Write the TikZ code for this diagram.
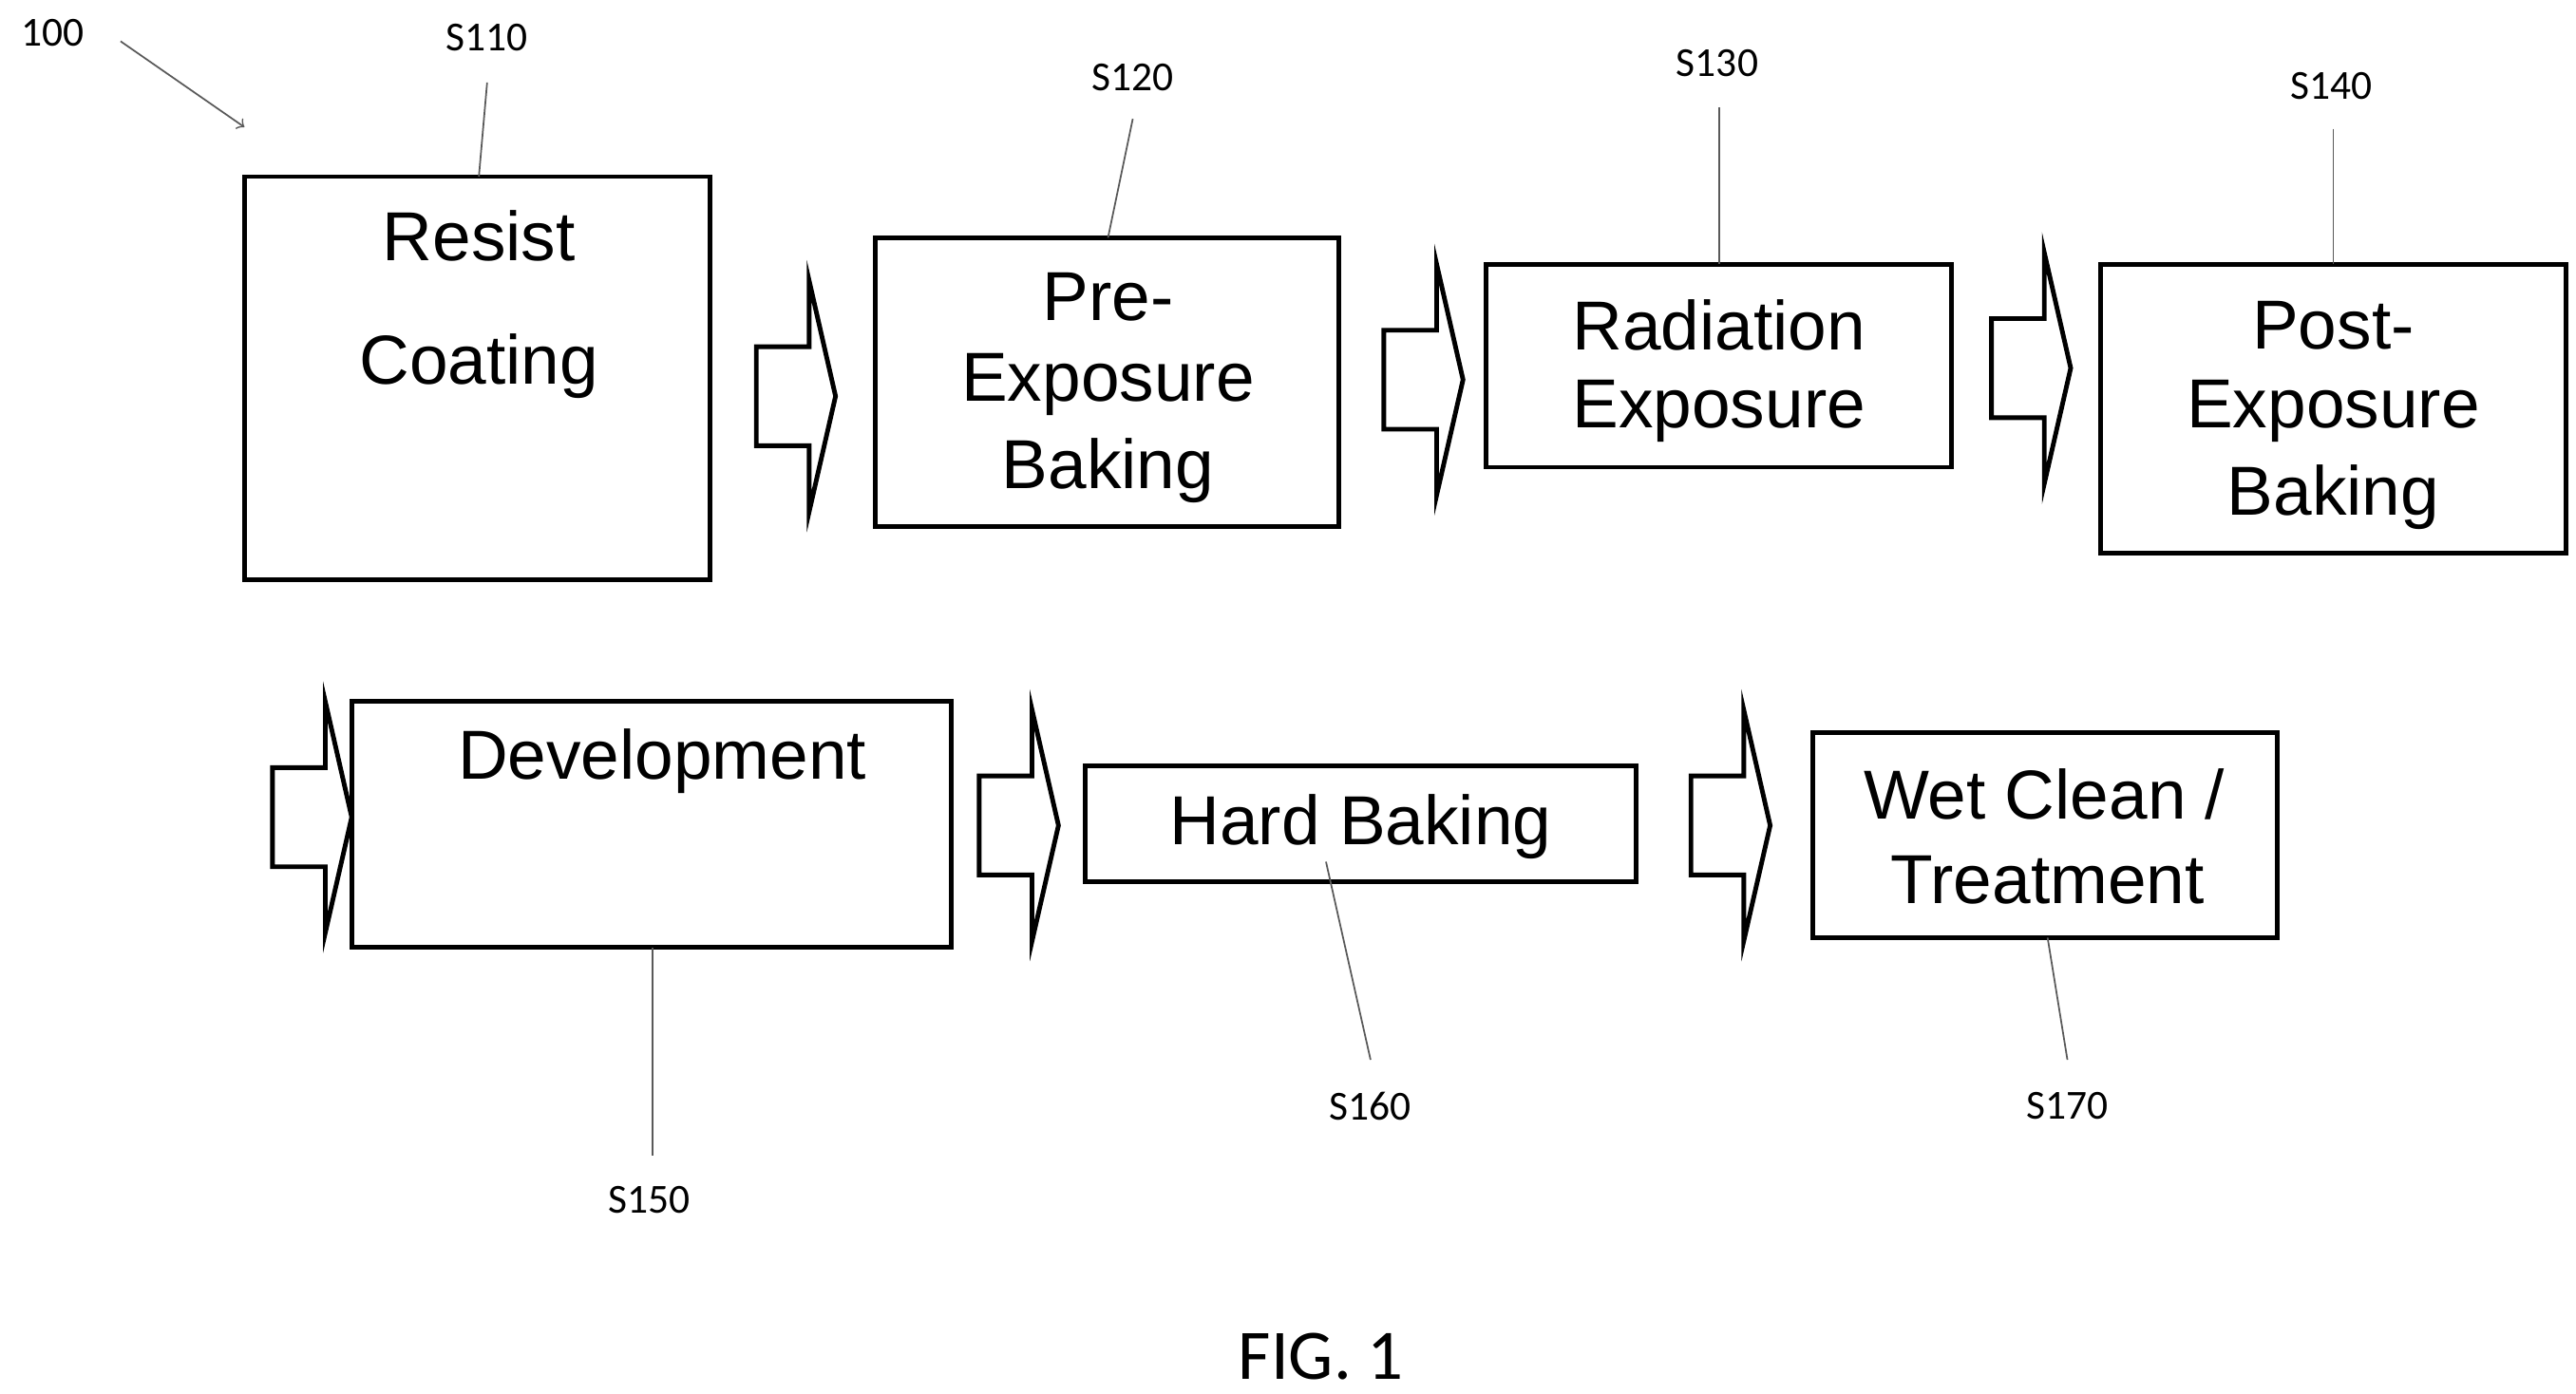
\documentclass[tikz,border=0pt]{standalone}
\usepackage{fontspec}
\setmainfont{Liberation Sans}
\newfontfamily\calib{Carlito}
\begin{document}
\begin{tikzpicture}[x=0.5pt,y=-0.5pt,
  box/.style={draw,line width=1.4pt},
  txt/.style={font=\fontsize{21}{25}\selectfont,inner sep=0},
  lab/.style={font=\calib\fontsize{12.5}{15}\selectfont,inner sep=0},
  lead/.style={draw=gray!70!black,line width=0.5pt},
  blk/.style={draw,line width=1.4pt,line join=miter}]
\useasboundingbox (0,0) rectangle (1560,844);
% boxes
\draw[box] (148,107) rectangle (430,351); \coordinate (b1) at (290,107);
\node[txt] (t1a) at (290,143) {Resist};
\node[txt] (t1b) at (290,222) {Coating};
\draw[box] (530,144) rectangle (811,319); \coordinate (b2) at (671,144);
\node[txt] at (671,180) {Pre-};
\node[txt] at (671,233) {Exposure};
\node[txt] at (671,285) {Baking};
\draw[box] (900,160) rectangle (1182,283); \coordinate (b3) at (1041,160);
\node[txt] at (1041,197) {Radiation};
\node[txt] at (1041,249) {Exposure};
\draw[box] (1272,160) rectangle (1554,335); \coordinate (b4) at (1413,160);
\node[txt] at (1413,197) {Post-};
\node[txt] at (1413,249) {Exposure};
\node[txt] at (1413,301) {Baking};
\draw[box] (213,425) rectangle (576,574); \coordinate (b5) at (395,574);
\node[txt] at (401,461) {Development};
\draw[box] (657,464) rectangle (991,534); \coordinate (b6) at (803,522);
\node[txt] at (824,501) {Hard Baking};
\draw[box] (1098,444) rectangle (1379,568); \coordinate (b7) at (1240,568);
\node[txt] at (1238,481) {Wet Clean /};
\node[txt] at (1240,533) {Treatment};
% block arrows
\foreach \x/\y in {458/240, 838/230, 1206/223, 165/495, 593/500, 1024/500}{
  \draw[blk] (\x,\y-30) -- (\x+32,\y-30) -- (\x+32,\y-70) -- (\x+48,\y) -- (\x+32,\y+70) -- (\x+32,\y+30) -- (\x,\y+30) -- cycle;
}
% labels and leaders
\node[lab] (l1) at (295,23) {S110};
\node[lab] (l2) at (686,47) {S120};
\node[lab] (l3) at (1040,38) {S130};
\node[lab] (l4) at (1412,52) {S140};
\node[lab] (l5) at (393,727) {S150};
\node[lab] (l6) at (830,670) {S160};
\node[lab] (l7) at (1252,670) {S170};
\draw[lead] (295,50) -- (b1);
\draw[lead] (686,72) -- (b2);
\draw[lead] (1041,65) -- (b3);
\draw[lead] (1413,78) -- (b4);
\draw[lead] (b5) -- (395,700);
\draw[lead] (b6) -- (830,642);
\draw[lead] (b7) -- (1252,642);
\node[lab] (l0) at (32,20) {100};
\coordinate (a0) at (73,25); \coordinate (a1) at (148,77);
\draw[lead,->] (a0) -- (a1);
\node[font=\calib\fontsize{21.5}{25}\selectfont,inner sep=0] (fig) at (800,822) {FIG. 1};
\end{tikzpicture}
\end{document}
